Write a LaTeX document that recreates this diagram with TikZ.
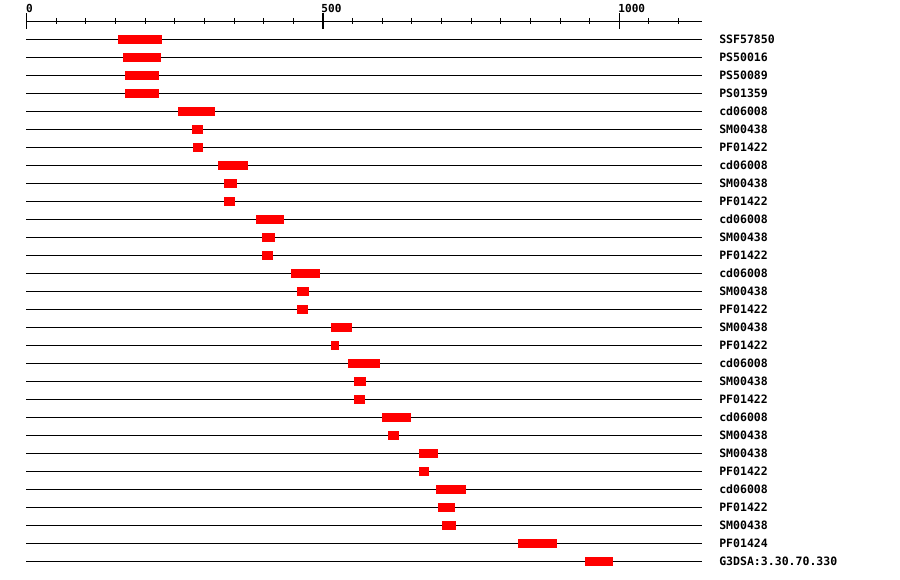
\documentclass[tikz,border=0pt]{standalone}
\usepackage{fontspec}
\newfontfamily\monob{DejaVu Sans Mono}[BoldFont={* Bold}]
\begin{document}
\begin{tikzpicture}[x=0.75pt,y=-0.75pt,
  rule/.style={line width=0.8pt,black},
  bar/.style={fill=red,draw=none},
  lbl/.style={anchor=west,inner sep=0pt,font=\monob\bfseries\fontsize{8.65pt}{9pt}\selectfont},
  scalelbl/.style={anchor=base west,inner sep=0pt,font=\monob\bfseries\fontsize{8.3pt}{9pt}\selectfont}]
\useasboundingbox (0,0) rectangle (900,580);
% ruler
\draw[rule] (26.7,21.5) -- (701.7,21.5);
\foreach \i in {0,...,22}{
  \pgfmathsetmacro{\xx}{26.7+29.63*\i}
  \pgfmathtruncatemacro{\m}{mod(\i,10)}
  \ifnum\m=0
    \draw[rule] (\xx,13.5) -- (\xx,28.7);
  \else
    \draw[rule] (\xx,18) -- (\xx,24.5);
  \fi
}
\node[scalelbl] (s0) at (25.8,12.2) {0};
\node[scalelbl] (s500) at (321.2,12.2) {500};
\node[scalelbl] (s1000) at (618.2,12.2) {1000};
% rows
\foreach \a/\b/\t [count=\n from 0] in {
118/162/SSF57850, 123/161/PS50016, 125/159/PS50089, 125/159/PS01359,
178/215/cd06008, 192/203/SM00438, 193/203/PF01422,
218/248/cd06008, 224/237/SM00438, 224/235/PF01422,
256/284/cd06008, 262/275/SM00438, 262/273/PF01422,
291/320/cd06008, 297/309/SM00438, 297/308/PF01422,
331/352/SM00438, 331/339/PF01422,
348/380/cd06008, 354/366/SM00438, 354/365/PF01422,
382/411/cd06008, 388/399/SM00438,
419/438/SM00438, 419/429/PF01422,
436/466/cd06008, 438/455/PF01422, 442/456/SM00438,
518/557/PF01424, 585/613/G3DSA:3.30.70.330}{
  \pgfmathsetmacro{\yy}{39.5+18*\n}
  \draw[rule] (26,\yy) -- (701.7,\yy);
  \fill[bar] (\a,\yy-4.5) rectangle (\b,\yy+4.5);
  \node[lbl] (l\n) at (719,\yy) {\t};
}
\end{tikzpicture}
\end{document}
